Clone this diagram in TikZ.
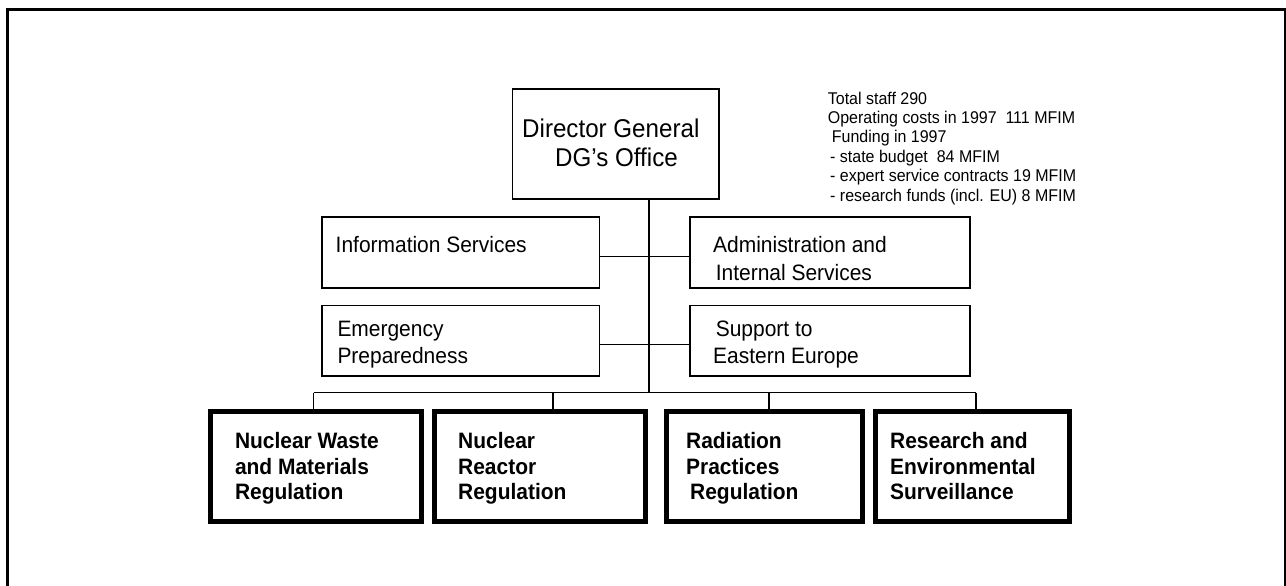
\documentclass[tikz,border=0pt]{standalone}
\usepackage{fontspec}
\setmainfont{Liberation Sans}[FakeStretch=0.94]
\begin{document}
\begin{tikzpicture}[x=1pt,y=-1pt,
  box/.style={draw, line width=1.4pt, inner sep=0pt},
  unitbox/.style={draw, line width=5pt, inner sep=0pt, minimum width=#1, minimum height=110pt},
  txt/.style={inner sep=0pt, anchor=base west},
  dgf/.style={font=\fontsize{25.7}{30}\selectfont},
  midf/.style={font=\fontsize{22.3}{26}\selectfont},
  botf/.style={font=\fontsize{22.3}{26}\selectfont\bfseries},
  smf/.style={font=\fontsize{17}{20}\selectfont},
  conn/.style={draw, line width=1.2pt}]
\useasboundingbox (0,0) rectangle (1286,586);
\begin{scope}
  \clip (0,0) rectangle (1286,586);
  \draw[line width=3pt] (7.2,600) -- (7.2,9.7) -- (1285,9.7) -- (1285,600);
\end{scope}

% boxes
\node[box, minimum width=206.3pt, minimum height=110pt] (dg) at (615.85,144) {};
\node[box, minimum width=277.5pt, minimum height=71pt] (info) at (460.75,252.5) {};
\node[box, minimum width=280pt, minimum height=71pt] (admin) at (830,252.5) {};
\node[box, minimum width=277.5pt, minimum height=70.5pt] (emerg) at (460.75,340.8) {};
\node[box, minimum width=280pt, minimum height=70.5pt] (support) at (830,340.8) {};

\node[unitbox=211pt] (b1) at (316,466.5) {};
\node[unitbox=211pt] (b2) at (540,466.5) {};
\node[unitbox=196pt] (b3) at (764.5,466.5) {};
\node[unitbox=194pt] (b4) at (972.5,466.5) {};

% texts
\node[txt, dgf] (dg1) at (522,137) {Director General};
\node[txt, dgf] (dg2) at (555,166) {DG’s Office};

\node[txt, midf] (info1) at (335.5,252) {Information Services};
\node[txt, midf] (admin1) at (713,252) {Administration and};
\node[txt, midf] (admin2) at (715.6,280) {Internal Services};
\node[txt, midf] (emerg1) at (337.3,336) {Emergency};
\node[txt, midf] (emerg2) at (337.3,363.3) {Preparedness};
\node[txt, midf] (sup1) at (715.6,336) {Support to};
\node[txt, midf] (sup2) at (713,363.3) {Eastern Europe};

\node[txt, botf] (b1a) at (234.8,448) {Nuclear Waste};
\node[txt, botf] (b1b) at (234.8,474) {and Materials};
\node[txt, botf] (b1c) at (234.8,499) {Regulation};
\node[txt, botf] (b2a) at (458,448) {Nuclear};
\node[txt, botf] (b2b) at (458,474) {Reactor};
\node[txt, botf] (b2c) at (458,499) {Regulation};
\node[txt, botf] (b3a) at (686,448) {Radiation};
\node[txt, botf] (b3b) at (686,474) {Practices};
\node[txt, botf] (b3c) at (690,499) {Regulation};
\node[txt, botf] (b4a) at (890,448) {Research and};
\node[txt, botf] (b4b) at (890,474) {Environmental};
\node[txt, botf] (b4c) at (890,499) {Surveillance};

\node[txt, smf] (s1) at (827.7,105) {Total staff 290};
\node[txt, smf] (s2) at (827.7,123.5) {Operating costs in 1997~~111 MFIM};
\node[txt, smf] (s3) at (831.7,142.5) {Funding in 1997};
\node[txt, smf] (s4) at (830,162) {- state budget~~84 MFIM};
\node[txt, smf] (s5) at (830,181.5) {- expert service contracts 19 MFIM};
\node[txt, smf] (s6) at (830,201) {- research funds (incl. EU) 8 MFIM};

% connectors
\coordinate (bus) at (649,392.7);
\coordinate (h1) at (649,256.7);
\coordinate (h2) at (649,344.5);
\coordinate (d1) at (313.5,392.7);
\coordinate (d2) at (553,392.7);
\coordinate (d3) at (769,392.7);
\coordinate (d4) at (976,392.7);
\draw[conn] (dg.south -| bus) -- (bus);
\draw[conn] (info.east |- h1) -- (admin.west |- h1);
\draw[conn] (emerg.east |- h2) -- (support.west |- h2);
\draw[conn] (d1) -- (d4);
\draw[conn] (d1) -- (d1 |- b1.north);
\draw[conn] (d2) -- (d2 |- b2.north);
\draw[conn] (d3) -- (d3 |- b3.north);
\draw[conn] (d4) -- (d4 |- b4.north);
\end{tikzpicture}
\end{document}
